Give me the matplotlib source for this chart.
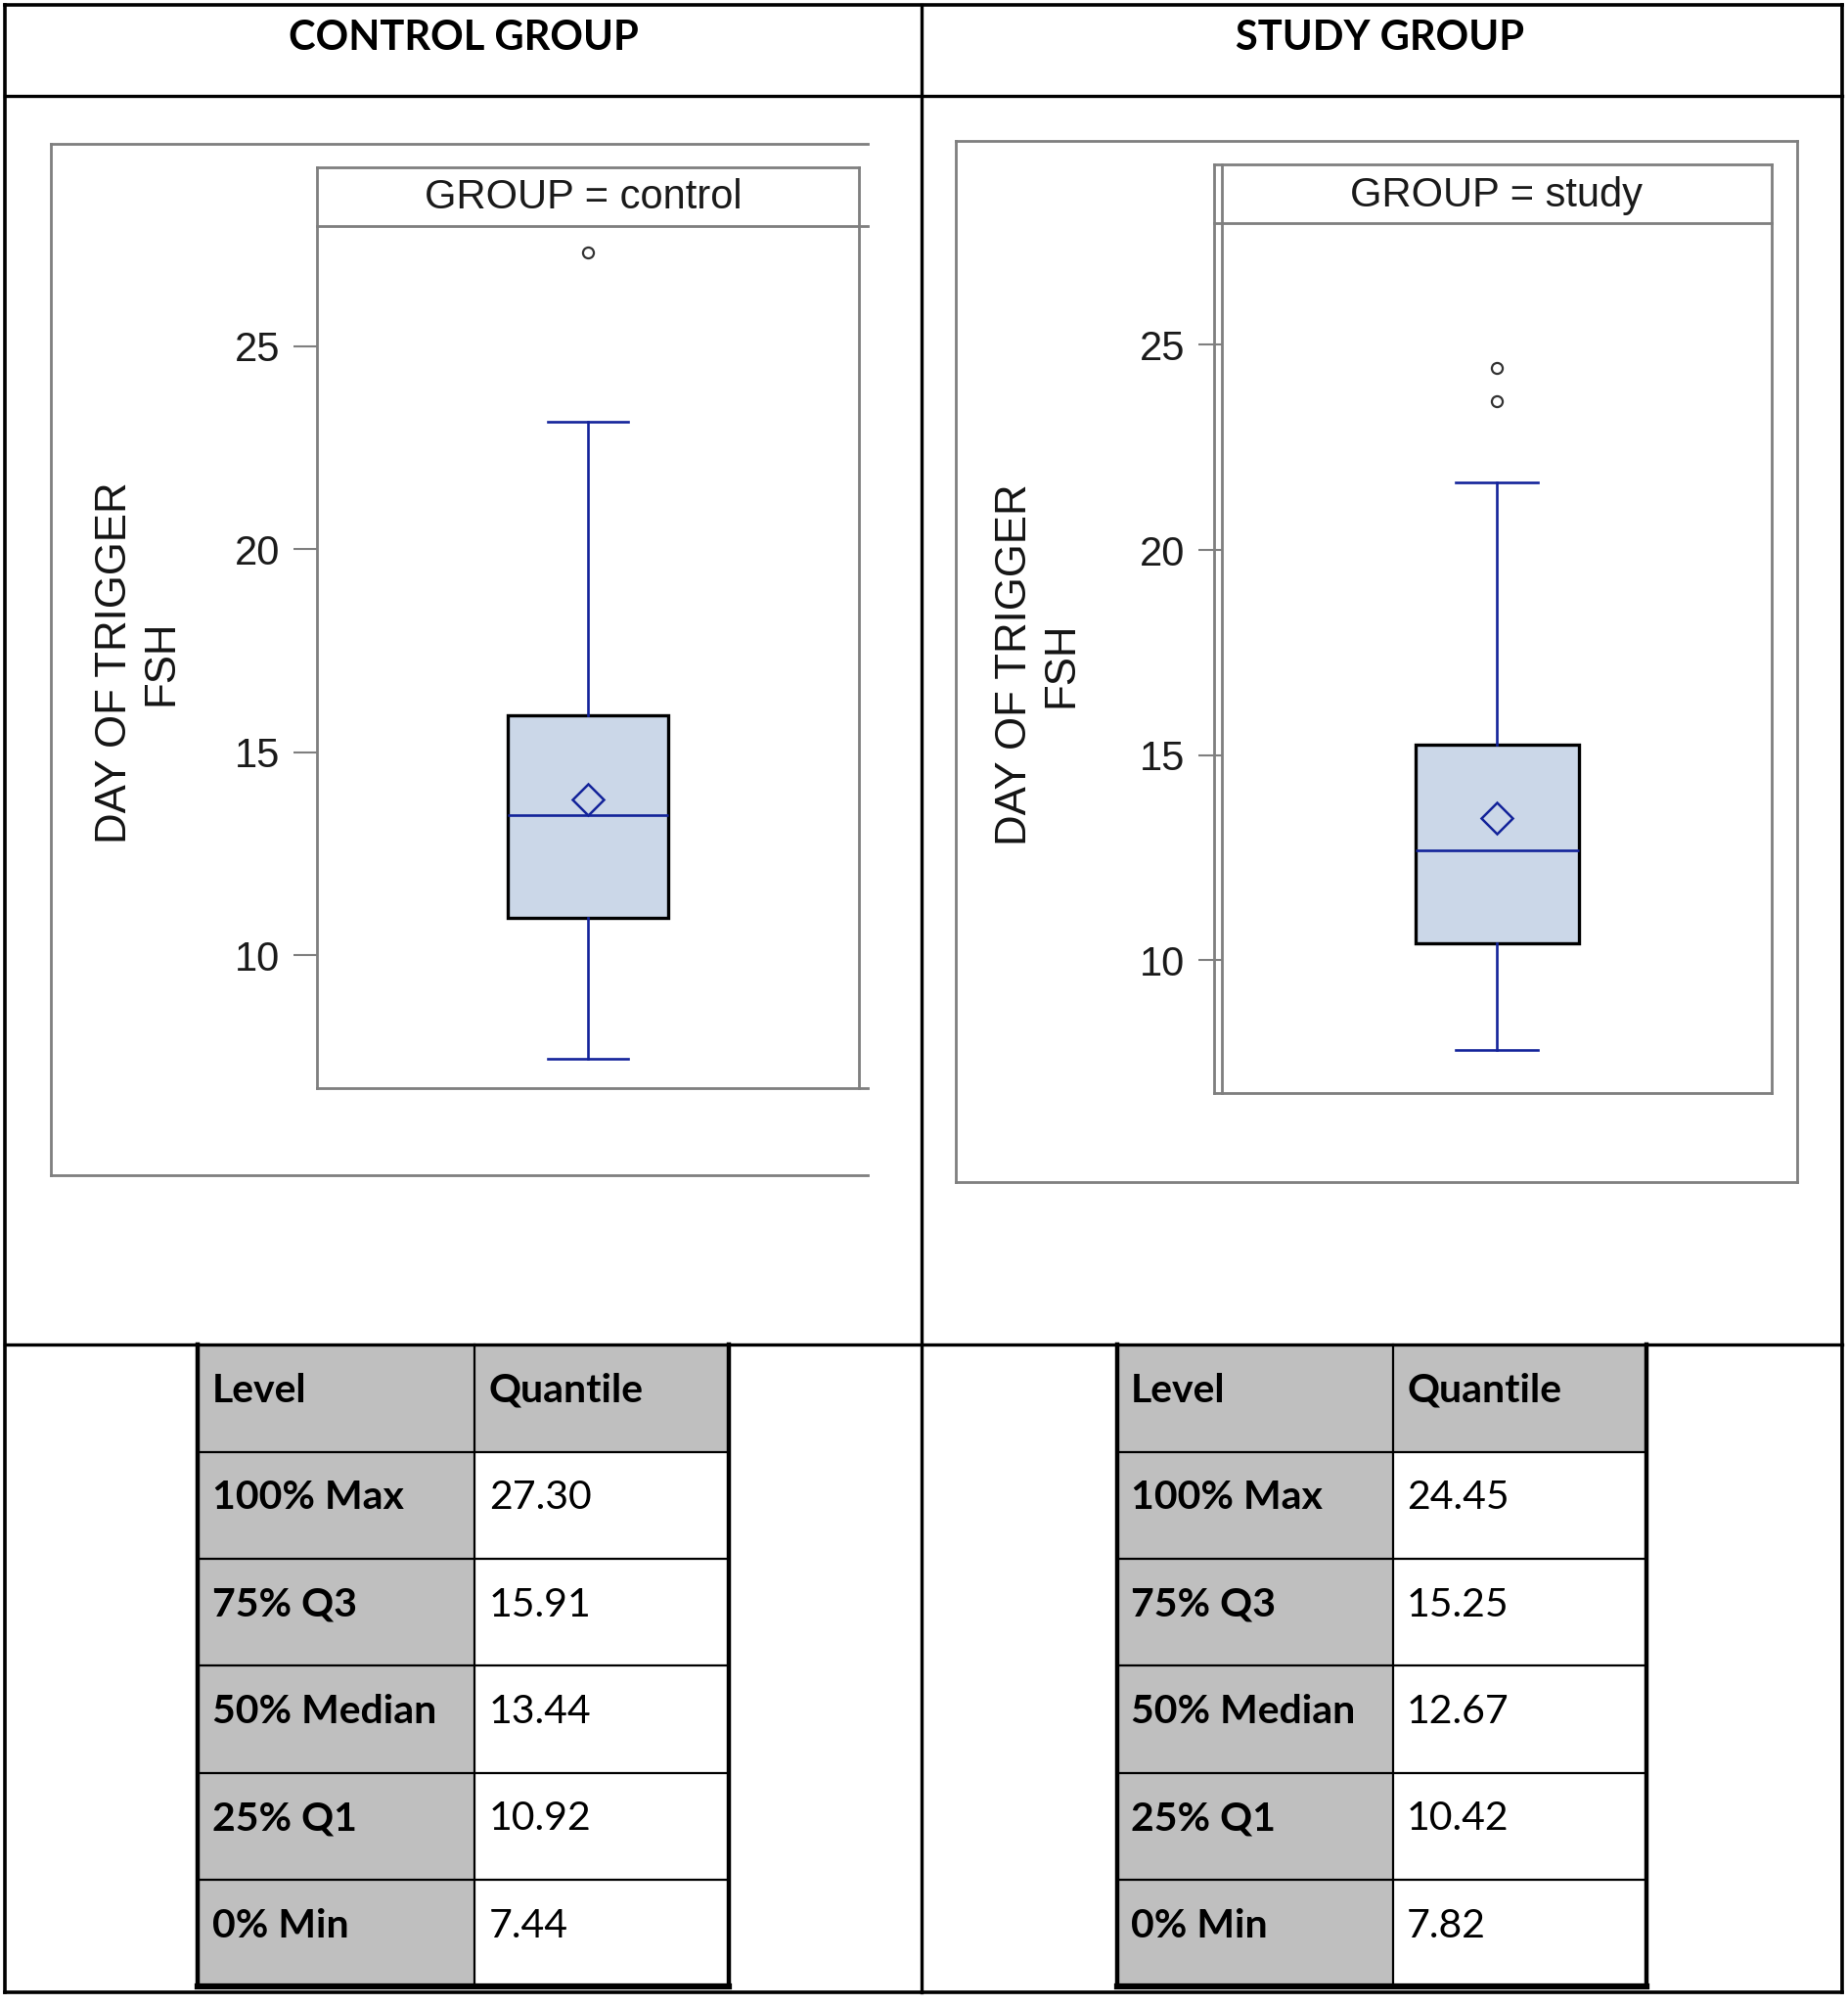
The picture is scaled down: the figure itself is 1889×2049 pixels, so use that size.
import matplotlib.pyplot as plt
from matplotlib.patches import Rectangle

# ---- data ----
group_titles = ["CONTROL GROUP", "STUDY GROUP"]
strip_labels = ["GROUP = control", "GROUP = study"]
q_levels = ["100% Max", "75% Q3", "50% Median", "25% Q1", "0% Min"]
control_q = [27.30, 15.91, 13.44, 10.92, 7.44]
study_q = [24.45, 15.25, 12.67, 10.42, 7.82]
control_whishi = 23.14
study_whishi = 21.65
control_mean = 13.84
study_mean = 13.47
control_fliers = [27.30]
study_fliers = [24.45, 23.63]
y_ticks = [10, 15, 20, 25]
y_label = "DAY OF TRIGGER\nFSH"

# layout is measured on a 1.305x smaller copy of the picture
S = 1.305
WD = 1890 / S
HD = 2049 / S

fig = plt.figure(figsize=(18.9, 20.49), dpi=100)
ov = fig.add_axes([0, 0, 1, 1], zorder=0)
ov.set_xlim(0, WD)
ov.set_ylim(HD, 0)
ov.axis("off")


def rect(x0, y0, x1, y1):
    return [x0 / WD, 1 - y1 / HD, (x1 - x0) / WD, (y1 - y0) / HD]


def line(x0, y0, x1, y1, c="black", lw=2.0):
    ov.plot([x0, x1], [y0, y1], color=c, lw=lw, solid_capstyle="projecting")


# page grid
line(4, 4, 1443, 4, lw=2.6)
line(4, 1560, 1443, 1560, lw=2.6)
line(4, 4, 4, 1560, lw=2.6)
line(1443, 4, 1443, 1560, lw=2.6)
line(4, 75, 1443, 75, lw=2.4)
line(722, 4, 722, 1560, lw=2.4)
line(4, 1053, 1443, 1053, lw=2.4)

for cx, title in zip([363, 1081], group_titles):
    ov.text(cx, 30, title, ha="center", va="center", fontsize=30,
            fontweight="bold", family="Lato", color="black")

# SAS panel frames
g = "#7f7f7f"
line(40, 113, 680, 113, c=g)
line(40, 113, 40, 920, c=g)
line(40, 920, 680, 920, c=g)
line(248, 131, 673, 131, c=g)
line(248, 131, 248, 852, c=g)
line(673, 131, 673, 852, c=g)
line(248, 177, 680, 177, c=g)
line(248, 852, 680, 852, c=g)

line(749, 110, 1408, 110, c=g)
line(749, 926, 1408, 926, c=g)
line(749, 110, 749, 926, c=g)
line(1408, 110, 1408, 926, c=g)
line(951, 129, 1388, 129, c=g)
line(951, 856, 1388, 856, c=g)
line(951, 129, 951, 856, c=g)
line(957, 129, 957, 856, c=g)
line(1388, 129, 1388, 856, c=g)
line(951, 175, 1388, 175, c=g)

navy = "#13239a"
panels = [
    dict(box=(248, 177, 673, 852), ylim=(6.73, 27.96), q=control_q,
         hi=control_whishi, mean=control_mean, fl=control_fliers,
         strip=(457, 155), lab=strip_labels[0], labx=-0.249),
    dict(box=(957, 175, 1388, 856), ylim=(6.76, 27.96), q=study_q,
         hi=study_whishi, mean=study_mean, fl=study_fliers,
         strip=(1172, 153), lab=strip_labels[1], labx=-0.255),
]

for p in panels:
    ax = fig.add_axes(rect(*p["box"]), zorder=2)
    ax.set_facecolor("none")
    q = p["q"]
    stats = [dict(med=q[2], q1=q[3], q3=q[1], whislo=q[4], whishi=p["hi"],
                  mean=p["mean"], fliers=p["fl"])]
    ax.bxp(stats, positions=[0.5], widths=[0.297], capwidths=[0.148],
           showmeans=True, patch_artist=True,
           boxprops=dict(facecolor="#cbd7e8", edgecolor="black", lw=2.4),
           whiskerprops=dict(color=navy, lw=1.9),
           capprops=dict(color=navy, lw=1.9),
           medianprops=dict(color=navy, lw=1.9),
           meanprops=dict(marker="D", markersize=16, markerfacecolor="none",
                          markeredgecolor=navy, markeredgewidth=1.8),
           flierprops=dict(marker="o", markersize=8, markerfacecolor="none",
                           markeredgecolor="#333333", markeredgewidth=1.6))
    ax.set_xlim(0, 1)
    ax.set_ylim(*p["ylim"])
    ax.set_xticks([])
    ax.set_yticks(y_ticks)
    ax.tick_params(axis="y", direction="out", length=17, width=1.5,
                   color=g, pad=10, labelsize=30, labelcolor="#1a1a1a")
    for lbl in ax.get_yticklabels():
        lbl.set_family("Liberation Sans")
    for sp in ax.spines.values():
        sp.set_visible(False)
    ax.set_ylabel(y_label, fontsize=31.5, family="Liberation Sans",
                  color="#141414", linespacing=1.2)
    ax.yaxis.set_label_coords(p["labx"], 0.493)
    ov.text(p["strip"][0], p["strip"][1], p["lab"], ha="center", va="center",
            fontsize=30, family="Liberation Sans", color="#1a1a1a")

# quantile tables
row_h = 83.8
top = 1053
headers = ["Level", "Quantile"]
for cols, values in [((155, 372, 571), control_q), ((875, 1091, 1290), study_q)]:
    x0, xm, x1 = cols
    rows = [headers] + [[lv, f"{v:.2f}"] for lv, v in zip(q_levels, values)]
    bottom = top + row_h * len(rows)
    for i, (a, b) in enumerate(rows):
        y = top + row_h * i
        ov.add_patch(Rectangle((x0, y), xm - x0, row_h, facecolor="#bfbfbf",
                               edgecolor="none", zorder=1))
        if i == 0:
            ov.add_patch(Rectangle((xm, y), x1 - xm, row_h, facecolor="#bfbfbf",
                                   edgecolor="none", zorder=1))
        if i > 0:
            line(x0, y, x1, y, lw=1.6)
        ov.text(x0 + 11, y + 45, a, ha="left", va="baseline", fontsize=29.5,
                fontweight="bold", family="Lato", color="black", zorder=3)
        ov.text(xm + 11, y + 45, b, ha="left", va="baseline", fontsize=29.5,
                fontweight="bold" if i == 0 else "normal", family="Lato",
                color="black", zorder=3)
    line(xm, top, xm, bottom, lw=1.6)
    line(x0, top, x0, bottom, lw=3.2)
    line(x1, top, x1, bottom, lw=3.2)
    line(x0, bottom, x1, bottom, lw=4.5)

fig.savefig("out.png", dpi=100)
